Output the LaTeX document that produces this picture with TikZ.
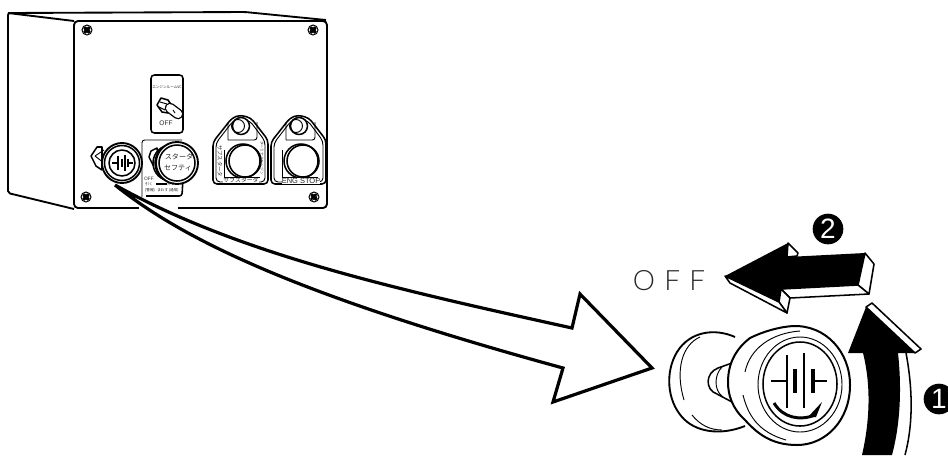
\documentclass[tikz,border=0pt]{standalone}
\usepackage{fontspec}
\setmainfont{Liberation Sans}
\newfontfamily\cjk{Noto Sans CJK JP}
\newfontfamily\lightf{Lato Light}
\tikzset{
 ink/.style={draw=black,line width=1.15pt,line join=round},
 thin ink/.style={draw=black,line width=0.7pt},
 hvy/.style={draw=black,line width=2.4pt,line join=miter},
 screw/.pic={\draw[line width=0.75pt] (0,0) circle (5);\draw[line width=0.6pt] (-3.4,-3.4)--(3.4,3.4) (-3.4,3.4)--(3.4,-3.4) (-1.6,-3.4)--(3.4,1.6) (-3.4,-1.6)--(1.6,3.4) (1.6,-3.4)--(-3.4,1.6) (3.4,-1.6)--(-1.6,3.4);},
 tiny/.style={inner sep=0,font=\cjk\fontsize{2.7}{3}\selectfont,text=black!90},
 num/.style={circle,fill=black,inner sep=0,minimum size=23pt,text=white,font=\fontsize{21}{21}\selectfont},
}
\begin{document}
\begin{tikzpicture}[x=0.75pt,y=-0.75pt]
\useasboundingbox (0,0) rectangle (948,455);
% enclosure
\draw[ink,line width=1.4pt,rounded corners=1.5] (74,21)--(8,13)--(8,193)--(74,209);
\draw[ink,line width=1.4pt,rounded corners=1.5] (8,13)--(245,12)--(326,20);
\draw[ink,line width=1.4pt,rounded corners=3] (74,21) rectangle (327,208);
\pic at (87,30) {screw};
\pic at (313,30) {screw};
\pic at (86,197) {screw};
\pic at (314,197) {screw};
% engine room switch
\draw[ink,rounded corners=2.5] (151,75) rectangle (183,133);
\node[tiny] (erl) at (167,87) {エンジンルームVC};
\node[inner sep=0,font=\fontsize{5}{5}\selectfont,text=black!85] (erf) at (166,123) {OFF};
\draw[ink,fill=white] (161,98)--(168,100)--(172,106)--(168,113)--(162,112)--(157,105)--cycle;
\draw[line width=8pt,line cap=round] (170,108)--(178,114);
\draw[white,line width=6pt,line cap=round] (170,108)--(178,114);
\draw[thin ink] (160,102)--(167,104) (159,107)--(165,110) (173,110)--(175,113);
% battery switch
\draw[ink,fill=white] (102,147)--(97,147)--(91,156)--(96,166)--(102,170)--cycle;
\draw[thin ink] (95,156)--(104,150) (95,156)--(104,163);
\draw[ink,line width=1.4pt,fill=white] (122,163) circle (20);
\draw[ink] (122,163) circle (17.5);
\draw[ink] (122,163) circle (13);
\draw[line width=1pt] (112,163)--(118,163) (118,156)--(118,170) (122,159)--(122,167) (125,155)--(125,171) (128,159)--(128,167) (128,163)--(133,163);
% starter safety
\draw[thin ink,rounded corners=2] (142,197)--(142,140)--(182,140);
\draw[ink,rounded corners=2] (146,196)--(182,196)--(183,178);
\draw[ink,fill=white] (157,148)--(151,151)--(149,157)--(153,165)--(160,172)--cycle;
\draw[ink,fill=white] (171,163) circle (18);
\draw[ink,fill=white] (174,163) circle (19);
\draw[ink,line width=1.4pt,fill=white] (177,163) circle (21);
\draw[ink] (177,163) circle (18);
\node[inner sep=0,font=\cjk\fontsize{5.3}{6}\selectfont,text=black!85] (s1) at (179,157) {スタータ};
\node[inner sep=0,font=\cjk\fontsize{5.3}{6}\selectfont,text=black!85] (s2) at (178,168) {セフティ};
\node[inner sep=0,font=\fontsize{3.6}{4}\selectfont,text=black!85] (o1) at (149,179) {OFF};
\node[tiny] (o2) at (149,184) {引く};
\node[tiny] (o3) at (150,190) {(警報)};
\node[tiny] (o4) at (171,184) {押す};
\node[tiny] (o5) at (168,190) {まわす (通常)};
\coordinate (ar1) at (156,184); \coordinate (ar2) at (167,184);
\draw[line width=0.8pt] (ar1)--(ar2);
% plates
\foreach \dx in {0,58}{
 \begin{scope}[xshift=\dx*0.75pt]
 \draw[ink,rounded corners=3] (213,184)--(213,142)--(232,118)--(240,115)--(251,118)--(268,140)--(268,184)--cycle;
 \draw[thin ink,rounded corners=3] (216,182)--(216,143)--(233,121)--(240,118)--(250,121)--(265,141)--(265,182)--cycle;
 \draw[thin ink,rounded corners=2] (228,140)--(228,122) (257,122)--(257,140)--(228,140);
 \draw[ink,fill=white] (241,126) circle (8.5);
 \draw[thin ink] (238,126) circle (6.5);
 \draw[thin ink] (224,150)--(224,177)--(260,177);
 \draw[ink,fill=white] (243,161) circle (17);
 \draw[ink] (245,161) circle (16);
 \end{scope}}
\node[inner sep=0,fill=white,font=\cjk\fontsize{4.4}{4.5}\selectfont,text=black!85] (sb) at (241,180.5) {サブスタータ};
\node[inner sep=0,fill=white,font=\fontsize{5.6}{6}\selectfont,text=black!85] (es) at (301,181) {ENG STOP};
\node[inner sep=0,rotate=-90,font=\cjk\fontsize{4}{4.5}\selectfont,text=black!85] (sb2) at (220,161) {サブスタータ};
\node[inner sep=0,rotate=-90,font=\cjk\fontsize{2.8}{3}\selectfont,text=black!85] (sb3) at (262,158) {ターミナルエンジン};
% big arrow
\coordinate (tail) at (115,185);
\coordinate (bb1) at (572,328);
\coordinate (b1) at (580,294);
\coordinate (tip) at (652,368);
\coordinate (b2) at (553,402);
\coordinate (bb2) at (563,368);
\fill[white] (139,204) rectangle (178,212);
\draw[hvy,fill=white] (tail) .. controls (185,241) and (300,296) .. (bb2) -- (b2) -- (tip) -- (b1) -- (bb1) .. controls (400,290) and (240,255) .. (tail);
% knob
\draw[ink,line width=1.4pt,fill=white] (735,337) .. controls (715,328) and (690,331) .. (677,352) .. controls (665,372) and (667,400) .. (682,417) .. controls (695,432) and (720,436) .. (745,426);
\draw[thin ink] (700,337) .. controls (682,345) and (675,370) .. (684,400);
\draw[thin ink] (692,415) .. controls (700,425) and (710,430) .. (722,430);
\draw[ink,fill=white] (732,363)--(718,368) .. controls (705,373) and (705,390) .. (717,394)--(732,402)--cycle;
\draw[thin ink] (722,367) .. controls (714,375) and (714,390) .. (722,396);
\draw[ink,line width=1.5pt,fill=white] (793,326) .. controls (826,325) and (850,352) .. (850,385) .. controls (850,420) and (826,445) .. (797,445) .. controls (770,445) and (756,432) .. (745,420) .. controls (732,408) and (728,395) .. (728,382) .. controls (728,362) and (737,348) .. (750,338) .. controls (762,332) and (778,327) .. (793,326);
\draw[thin ink] (745,372) .. controls (750,348) and (772,333) .. (800,331);
\draw[thin ink] (743,395) .. controls (748,415) and (758,432) .. (786,440);
\draw[thin ink] (800,384.5) ellipse (42 and 47.5);
\draw[ink] (800,384) ellipse (37 and 42);
\draw[line width=1.8pt] (771,381)--(787,381) (787,355)--(787,408) (804,353)--(804,408);
\draw[line width=3pt] (795,369)--(795,393) (813,369)--(813,393);
\draw[line width=1.8pt] (813,381)--(827,381);
\draw[line width=2.2pt] (774,403) .. controls (783,418) and (800,421) .. (815,415);
\fill (808,417)--(822,402)--(816,417)--cycle;
% OFF arrow
\node[inner sep=0,font=\lightf\fontsize{21}{21}\selectfont,text=black!85] (off) at (669,281) {O\hspace{7pt}F\hspace{7pt}F};
\fill (725,276)--(788,243)--(787,257)--(865,253)--(858,285)--(781,289)--(779,302)--cycle;
\draw[ink,fill=white] (788,243)--(798,253)--(797,256)--(787,257)--cycle;
\draw[ink,fill=white] (865,253)--(874,264)--(869,294)--(858,285)--cycle;
\draw[ink,fill=white] (781,289)--(858,285)--(869,294)--(790,298)--cycle;
\draw[ink,fill=white] (781,289)--(790,298)--(787,313)--(779,302)--cycle;
\draw[ink,fill=white] (725,276)--(730,283)--(787,313)--(779,302)--cycle;
% curved arrow 1
\draw[ink,fill=white] (866,307)--(872,303)--(921,349)--(915,353)--cycle;
\fill (866,307)--(915,353)--(898,353) .. controls (902,390) and (900,425) .. (892,455)--(862,455) .. controls (870,420) and (871,385) .. (863,353)--(848,353)--cycle;
\draw[ink] (906,353) .. controls (913,390) and (913,425) .. (905,455);
\node[num] (n2) at (828,229) {2};
\node[num] (n1) at (939,399) {1};
\end{tikzpicture}
\end{document}
